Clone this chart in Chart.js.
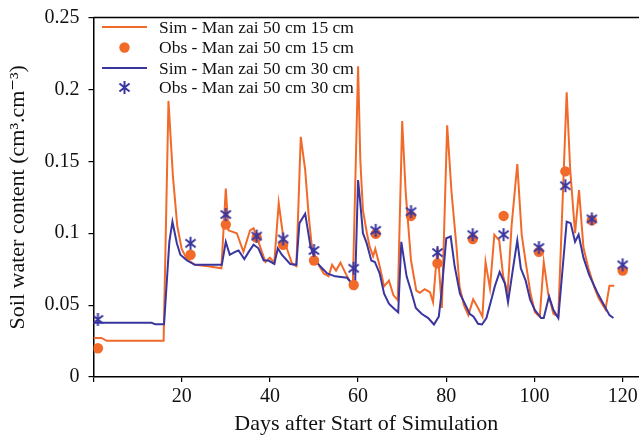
<!DOCTYPE html>
<html>
<head>
<meta charset="utf-8">
<script src="https://cdn.jsdelivr.net/npm/chart.js@4.4.1/dist/chart.umd.min.js"></script>
<style>
  html, body { margin: 0; padding: 0; background: #ffffff; }
  #wrap { width: 639px; height: 439px; position: relative; }
  canvas { display: block; }
</style>
</head>
<body>
<div id="wrap"><canvas id="c" width="639" height="439"></canvas></div>
<script>
// ---------------- DATA ----------------
const sim15Days = [0, 1.8, 3, 15.9, 17, 18, 19, 20, 21, 22, 23, 26, 29, 30, 30.6, 32.5, 34, 35.5, 36.3, 37.4, 39, 40, 41, 42, 43, 44, 45, 46, 47, 48, 48.8, 49.5, 50.7, 52.2, 53.3, 54.1, 55, 56, 57.5, 58.8, 60, 60.5, 61.1, 62, 62.6, 63.4, 63.9, 64.9, 65.9, 67, 68, 69, 70, 70.8, 72, 73.2, 74, 75.1, 76.3, 77, 78, 79, 80.2, 81.2, 82.3, 83, 84, 85, 86.1, 87.2, 88.2, 88.9, 89.9, 90.9, 92, 92.9, 93.9, 94.8, 96.1, 97.1, 98, 99.1, 100.1, 101.2, 102.1, 103.1, 104.3, 105.4, 107.3, 108.1, 109.2, 110.1, 111.1, 112.2, 113.5, 114.5, 116.1, 117, 118.1];
const sim15Vals = [0.0272, 0.0272, 0.0252, 0.0252, 0.192, 0.14, 0.105, 0.089, 0.083, 0.080, 0.078, 0.077, 0.0756, 0.131, 0.102, 0.100, 0.087, 0.102, 0.1035, 0.094, 0.080, 0.083, 0.0795, 0.121, 0.098, 0.088, 0.079, 0.077, 0.167, 0.144, 0.112, 0.091, 0.080, 0.072, 0.070, 0.078, 0.074, 0.0795, 0.070, 0.063, 0.216, 0.151, 0.116, 0.100, 0.091, 0.084, 0.089, 0.077, 0.063, 0.067, 0.057, 0.0535, 0.178, 0.128, 0.081, 0.060, 0.0586, 0.061, 0.059, 0.052, 0.090, 0.048, 0.175, 0.128, 0.091, 0.063, 0.050, 0.043, 0.054, 0.048, 0.042, 0.080, 0.0616, 0.099, 0.095, 0.070, 0.058, 0.105, 0.148, 0.099, 0.080, 0.058, 0.045, 0.042, 0.080, 0.058, 0.044, 0.042, 0.198, 0.144, 0.100, 0.130, 0.090, 0.076, 0.063, 0.055, 0.047, 0.0635, 0.0635];

const sim30Days = [0, 13.2, 14, 16, 17.2, 17.9, 18.9, 19.7, 21.2, 23, 29.1, 30, 30.9, 32.1, 32.9, 34.2, 35.2, 36.3, 37.4, 38.6, 39.7, 41, 41.8, 42.7, 44.6, 46, 46.7, 48, 49.2, 50.3, 51.4, 53, 54.8, 57.5, 58.6, 59.3, 60, 60.5, 61.1, 61.9, 63, 63.8, 64.9, 65.9, 67, 68, 69.1, 69.8, 71, 72, 73.1, 74.4, 75.9, 77.2, 78.3, 78.9, 80, 81, 81.9, 83.1, 84.2, 85.3, 86.2, 87.2, 88.1, 89.1, 90.3, 91, 92.1, 93.3, 94, 95.2, 96.1, 96.9, 98, 99, 100.1, 101.5, 102.1, 103.3, 104.3, 105.4, 107.3, 108.2, 109.2, 110, 111.1, 112.4, 114.2, 115.6, 117, 117.9];
const sim30Vals = [0.0377, 0.0377, 0.0366, 0.0366, 0.094, 0.108, 0.093, 0.085, 0.081, 0.078, 0.078, 0.094, 0.085, 0.087, 0.088, 0.082, 0.087, 0.092, 0.0895, 0.081, 0.081, 0.0786, 0.0895, 0.085, 0.0786, 0.078, 0.107, 0.1135, 0.091, 0.081, 0.077, 0.072, 0.070, 0.069, 0.065, 0.062, 0.137, 0.121, 0.100, 0.0935, 0.081, 0.080, 0.072, 0.058, 0.051, 0.048, 0.045, 0.094, 0.070, 0.060, 0.048, 0.044, 0.041, 0.0365, 0.042, 0.058, 0.0965, 0.0977, 0.077, 0.058, 0.051, 0.044, 0.042, 0.037, 0.0365, 0.041, 0.0547, 0.063, 0.073, 0.065, 0.052, 0.077, 0.095, 0.0756, 0.067, 0.054, 0.0465, 0.041, 0.041, 0.056, 0.0465, 0.041, 0.108, 0.107, 0.094, 0.099, 0.083, 0.071, 0.059, 0.051, 0.043, 0.041];

const obsDays  = [1, 22, 30, 37, 43, 50, 59, 64, 72, 78, 86, 93, 101, 107, 113, 120];
const obs15Vals = [0.020, 0.085, 0.106, 0.097, 0.092, 0.081, 0.064, 0.0995, 0.112, 0.079, 0.096, 0.112, 0.087, 0.143, 0.109, 0.074];
const obs30Vals = [0.040, 0.093, 0.113, 0.098, 0.096, 0.088, 0.0756, 0.102, 0.115, 0.0865, 0.099, 0.099, 0.090, 0.133, 0.110, 0.078];

const seriesLabels = [
  'Sim - Man zai 50 cm 15 cm',
  'Obs - Man zai 50 cm 15 cm',
  'Sim - Man zai 50 cm 30 cm',
  'Obs - Man zai 50 cm 30 cm'
];
const xTickValues = [0, 20, 40, 60, 80, 100, 120];
const yTickValues = [0, 0.05, 0.1, 0.15, 0.2, 0.25];
const yTickLabels = ['0', '0.05', '0.1', '0.15', '0.2', '0.25'];
const xTitle = 'Days after Start of Simulation';
const yTitle = 'Soil water content (cm\u00B3.cm\u207B\u00B3)';

// ---------------- STYLE ----------------
const ORANGE = '#F26A2A';
const BLUE = '#3A36A0';
const SERIF = '"Liberation Serif", "Times New Roman", "DejaVu Serif", serif';

function pairs(xs, ys) { return xs.map((x, i) => ({ x: x, y: ys[i] })); }

// asterisk marker (vertical bar + X)
function makeStar(size, color, lw) {
  const cv = document.createElement('canvas');
  cv.width = size; cv.height = size;
  const g = cv.getContext('2d');
  const c = size / 2, r = size / 2 - 1;
  g.strokeStyle = color; g.lineWidth = lw; g.lineCap = 'butt';
  g.beginPath();
  g.moveTo(c, c - r); g.lineTo(c, c + r);
  const d = r * 0.78;
  g.moveTo(c - d, c - d * 0.8); g.lineTo(c + d, c + d * 0.8);
  g.moveTo(c - d, c + d * 0.8); g.lineTo(c + d, c - d * 0.8);
  g.stroke();
  return cv;
}
const starImg = makeStar(15, BLUE, 2);

const topBorder = {
  id: 'topBorder',
  afterDraw(chart) {
    const { ctx, chartArea } = chart;
    ctx.save();
    ctx.strokeStyle = '#000';
    ctx.lineWidth = 1.5;
    ctx.beginPath();
    ctx.moveTo(chartArea.left, chartArea.top);
    ctx.lineTo(chartArea.right, chartArea.top);
    ctx.stroke();
    ctx.restore();
  }
};

const insideLegend = {
  id: 'insideLegend',
  afterDraw(chart) {
    const ctx = chart.ctx;
    const rowsY = [27, 47.5, 68, 87.5];
    const x0 = 102, x1 = 147, xc = 124.5, tx = 159;
    ctx.save();
    ctx.font = '17.5px ' + SERIF;
    ctx.textBaseline = 'middle';
    ctx.textAlign = 'left';
    chart.data.datasets.forEach((ds, i) => {
      const y = rowsY[i];
      if (ds.showLine) {
        ctx.strokeStyle = ds.borderColor;
        ctx.lineWidth = 2;
        ctx.beginPath(); ctx.moveTo(x0, y); ctx.lineTo(x1, y); ctx.stroke();
      } else if (ds.pointStyle === 'circle') {
        ctx.fillStyle = ds.pointBackgroundColor;
        ctx.beginPath(); ctx.arc(xc, y, 5.2, 0, Math.PI * 2); ctx.fill();
      } else {
        ctx.drawImage(starImg, xc - starImg.width / 2, y - starImg.height / 2);
      }
      ctx.fillStyle = '#111';
      ctx.fillText(ds.label, tx, y + 1);
    });
    ctx.restore();
  }
};

new Chart(document.getElementById('c'), {
  type: 'scatter',
  data: {
    datasets: [
      { label: seriesLabels[0], data: pairs(sim15Days, sim15Vals), showLine: true, borderColor: ORANGE, borderWidth: 2, pointRadius: 0, pointHoverRadius: 0, fill: false, tension: 0, order: 4 },
      { label: seriesLabels[1], data: pairs(obsDays, obs15Vals), showLine: false, pointStyle: 'circle', pointRadius: 5.2, pointBackgroundColor: ORANGE, pointBorderColor: ORANGE, pointBorderWidth: 0, order: 2 },
      { label: seriesLabels[2], data: pairs(sim30Days, sim30Vals), showLine: true, borderColor: BLUE, borderWidth: 2, pointRadius: 0, pointHoverRadius: 0, fill: false, tension: 0, order: 3 },
      { label: seriesLabels[3], data: pairs(obsDays, obs30Vals), showLine: false, pointStyle: starImg, pointRadius: 7, order: 1 }
    ]
  },
  options: {
    responsive: false,
    animation: false,
    devicePixelRatio: 1,
    layout: { autoPadding: false, padding: { top: 17.5, right: 0, left: 0, bottom: 0 } },
    plugins: { legend: { display: false }, tooltip: { enabled: false } },
    scales: {
      x: {
        type: 'linear',
        min: 0, max: 123.7,
        afterBuildTicks(scale) { scale.ticks = xTickValues.map(v => ({ value: v })); },
        afterFit(scale) { scale.height = 62; scale.paddingRight = 0; scale.paddingLeft = 0; },
        ticks: {
          callback: (v) => (v === 0 ? '' : String(v)),
          font: { family: SERIF, size: 20 },
          color: '#111',
          padding: 3,
          maxRotation: 0,
          autoSkip: false
        },
        grid: { display: true, drawOnChartArea: false, drawTicks: true, tickLength: 5, color: '#000', lineWidth: 1.2 },
        border: { display: true, color: '#000', width: 1.5 },
        title: { display: true, text: xTitle, font: { family: SERIF, size: 22 }, color: '#111', padding: { top: 0, bottom: 2 } }
      },
      y: {
        type: 'linear',
        min: 0, max: 0.25,
        afterBuildTicks(scale) { scale.ticks = yTickValues.map(v => ({ value: v })); },
        afterFit(scale) { scale.width = 93.5; scale.paddingTop = 0; scale.paddingBottom = 0; },
        ticks: {
          callback: (v) => { const i = yTickValues.findIndex(t => Math.abs(t - v) < 1e-9); return i >= 0 ? yTickLabels[i] : ''; },
          font: { family: SERIF, size: 20 },
          color: '#111',
          padding: 9,
          autoSkip: false
        },
        grid: { display: true, drawOnChartArea: false, drawTicks: true, tickLength: 5, color: '#000', lineWidth: 1.2 },
        border: { display: true, color: '#000', width: 1.5 },
        title: { display: true, text: yTitle, font: { family: SERIF, size: 22 }, color: '#111', padding: { top: 5, bottom: 0 } }
      }
    }
  },
  plugins: [topBorder, insideLegend]
});
</script>
</body>
</html>
